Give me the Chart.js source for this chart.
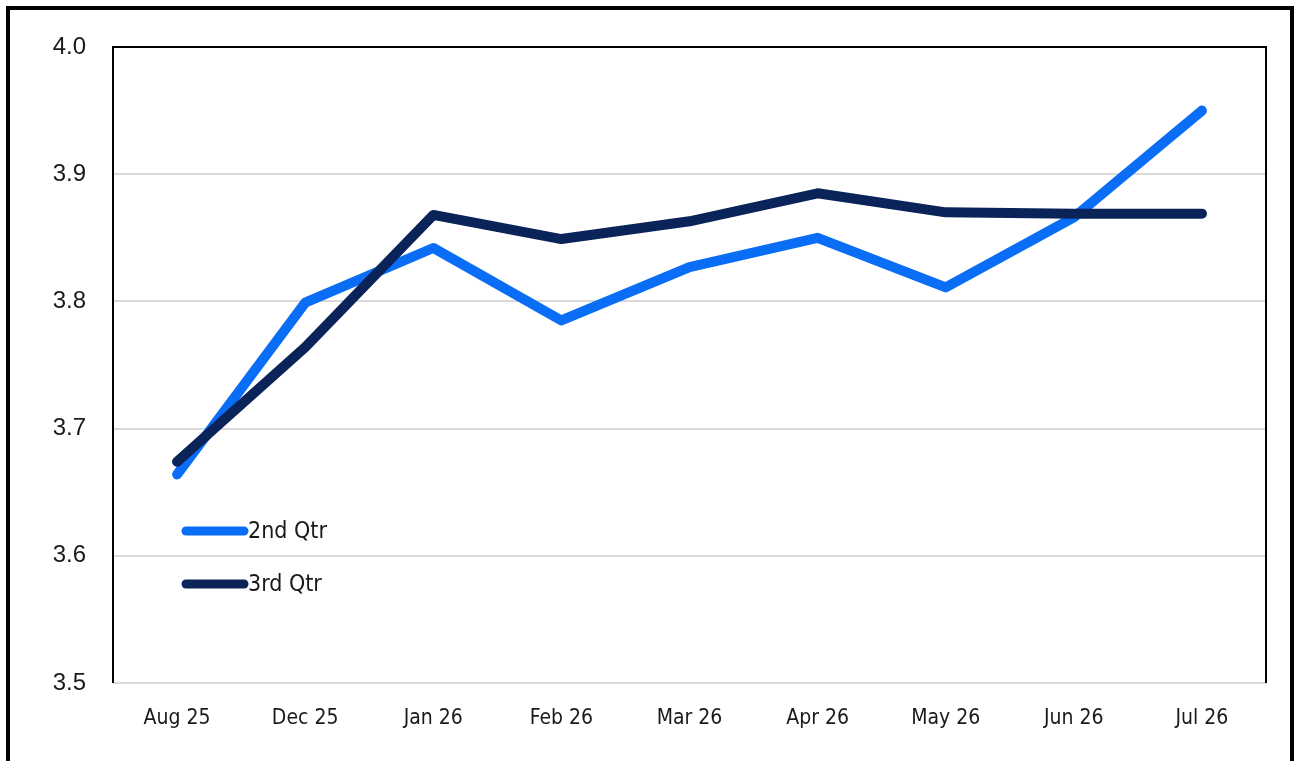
<!DOCTYPE html>
<html>
<head>
<meta charset="utf-8">
<script src="https://cdn.jsdelivr.net/npm/chart.js@4.4.1/dist/chart.umd.min.js"></script>
<style>
  html, body { margin: 0; padding: 0; background: #fff; overflow: hidden; }
  #frame { position: absolute; left: 6px; top: 6px; width: 1280px; height: 820px; border: 4px solid #000; }
  #wrap { position: absolute; left: 0; top: 0; width: 1297px; height: 761px; }
</style>
</head>
<body>
<div id="frame"></div>
<div id="wrap"><canvas id="qtrChart"></canvas></div>
<script>
// Months on the x axis
const months = ['Aug 25', 'Dec 25', 'Jan 26', 'Feb 26', 'Mar 26', 'Apr 26', 'May 26', 'Jun 26', 'Jul 26'];

// Series values
const secondQtr = [3.664, 3.799, 3.842, 3.785, 3.827, 3.850, 3.811, 3.866, 3.950];
const thirdQtr  = [3.674, 3.764, 3.868, 3.849, 3.863, 3.885, 3.870, 3.869, 3.869];

// y axis range
const yMin = 3.5;
const yMax = 4.0;
const yStep = 0.1;

const blue = '#0a6df6';
const navy = '#0a2359';
const narrowFont = '"DejaVu Sans Condensed", "Liberation Sans Narrow", sans-serif';

// draws the black box (left, top, right) round the plot area
const plotBox = {
    id: 'plotBox',
    beforeDatasetsDraw(chart) {
        const { ctx, chartArea: a } = chart;
        ctx.save();
        ctx.strokeStyle = '#000';
        ctx.lineWidth = 2;
        ctx.beginPath();
        ctx.moveTo(a.left, a.bottom);
        ctx.lineTo(a.left, a.top);
        ctx.lineTo(a.right, a.top);
        ctx.lineTo(a.right, a.bottom);
        ctx.stroke();
        ctx.restore();
    }
};

// legend drawn inside the plot, short thick line + label
const insideLegend = {
    id: 'insideLegend',
    afterDatasetsDraw(chart) {
        const { ctx, chartArea: a } = chart;
        ctx.save();
        chart.data.datasets.forEach((ds, i) => {
            const y = a.top + 484 + i * 53;
            const x0 = a.left + 73;
            ctx.strokeStyle = ds.borderColor;
            ctx.lineWidth = 9;
            ctx.lineCap = 'round';
            ctx.beginPath();
            ctx.moveTo(x0, y);
            ctx.lineTo(x0 + 58, y);
            ctx.stroke();
            ctx.fillStyle = '#1a1a1a';
            ctx.font = '23px ' + narrowFont;
            ctx.textBaseline = 'middle';
            ctx.fillText(ds.label, x0 + 62, y + 1);
        });
        ctx.restore();
    }
};

const qtrCtx = document.getElementById('qtrChart').getContext('2d');
const qtrChart = new Chart(qtrCtx, {
    type: 'line',
    data: {
        labels: months,
        datasets: [{
            label: '2nd Qtr',
            data: secondQtr,
            borderColor: blue,
            backgroundColor: blue,
            borderWidth: 10,
            borderCapStyle: 'round',
            borderJoinStyle: 'round',
            pointRadius: 0,
            tension: 0,
            order: 1
        }, {
            label: '3rd Qtr',
            data: thirdQtr,
            borderColor: navy,
            backgroundColor: navy,
            borderWidth: 10,
            borderCapStyle: 'round',
            borderJoinStyle: 'round',
            pointRadius: 0,
            tension: 0,
            order: 0
        }]
    },
    options: {
        responsive: true,
        maintainAspectRatio: false,
        animation: false,
        layout: {
            padding: { left: 0, top: 47, right: 31, bottom: 0 }
        },
        plugins: {
            legend: { display: false },
            tooltip: { enabled: false }
        },
        scales: {
            x: {
                offset: true,
                grid: { display: false, drawTicks: false },
                border: { display: false },
                ticks: {
                    color: '#1a1a1a',
                    padding: 23,
                    maxRotation: 0,
                    font: { family: narrowFont, size: 21 }
                },
                afterFit(scale) { scale.height = 78; }
            },
            y: {
                min: yMin,
                max: yMax,
                grid: {
                    color: '#d9d9d9',
                    lineWidth: 2,
                    drawTicks: false
                },
                border: { display: false },
                ticks: {
                    stepSize: yStep,
                    color: '#1a1a1a',
                    padding: 27,
                    callback: v => v.toFixed(1),
                    font: { family: '"Liberation Sans", Arial, sans-serif', size: 24 }
                },
                afterFit(scale) { scale.width = 113; }
            }
        }
    },
    plugins: [plotBox, insideLegend]
});
</script>
</body>
</html>
